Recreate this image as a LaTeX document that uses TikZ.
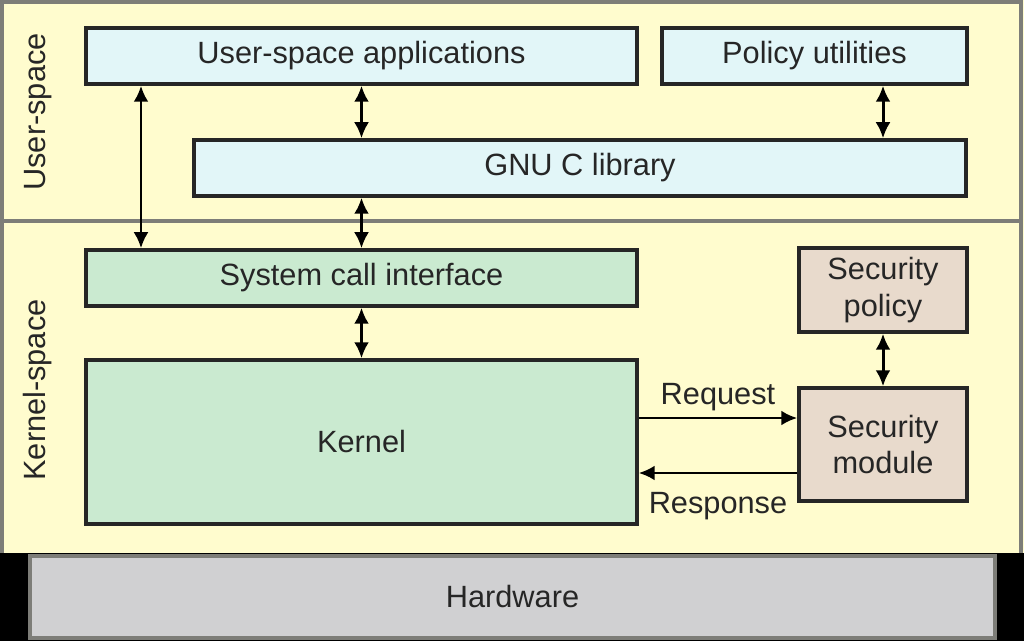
\documentclass[tikz,border=0pt]{standalone}
\usepackage{fontspec}
\setmainfont{Liberation Sans}
\usepackage{xcolor}
\usetikzlibrary{arrows.meta,positioning,calc}

\definecolor{bgyellow}{RGB}{255,252,206}
\definecolor{userblue}{RGB}{226,246,248}
\definecolor{kerngreen}{RGB}{202,234,208}
\definecolor{sectan}{RGB}{232,218,204}
\definecolor{hwgrey}{RGB}{208,208,210}
\definecolor{rimgrey}{RGB}{125,125,120}

\begin{document}
\begin{tikzpicture}[
  x=0.02cm, y=-0.02cm,
  font=\fontsize{17.5}{21}\selectfont,
  box/.style={draw=black!85, line width=2pt, align=center, inner sep=2pt, text=black!85},
  ubox/.style={box, fill=userblue, minimum height=1.12cm},
  kbox/.style={box, fill=kerngreen},
  sbox/.style={box, fill=sectan, minimum width=3.36cm},
  dbl/.style={{Latex[length=3.2mm,width=3mm]}-{Latex[length=3.2mm,width=3mm]}, line width=1.7pt},
  arr/.style={-{Latex[length=3.2mm,width=3mm]}, line width=1.7pt},
  lab/.style={inner sep=3pt, text=black!85},
  side/.style={rotate=90, inner sep=0pt, text=black!85}
]
\useasboundingbox (0,0) rectangle (1024,641);
% backdrop
\fill[bgyellow] (0,0) rectangle (1024,553);
\draw[rimgrey, line width=2.2pt] (2,553) -- (2,2) -- (1021,2) -- (1021,553);
\draw[rimgrey, line width=2.4pt] (2,221) -- (1021,221);
\fill[black] (0,553) rectangle (1024,641);

\node[side] (uspace) at (38,112) {User-space};
\node[side] (kspace) at (38,390) {Kernel-space};

% user-space
\node[ubox, minimum width=11.02cm] (apps)   at (361.5,56) {User-space applications};
\node[ubox, minimum width=6.10cm]  (polut)  at (814.5,56) {Policy utilities};
\node[ubox, minimum width=15.44cm] (glibc)  at (580,168)  {GNU C library};

% kernel-space
\node[kbox, minimum width=11.02cm, minimum height=1.12cm] (sysc) at (361.5,278) {System call interface};
\node[kbox, minimum width=11.02cm, minimum height=3.28cm] (kern) at (361.5,442) {Kernel};
\node[sbox, minimum height=1.68cm] (secpol) at (883,290)   {Security\\ policy};
\node[sbox, minimum height=2.26cm] (secmod) at (883,444.5) {Security\\ module};

% hardware
\node[box, draw=rimgrey, fill=hwgrey, minimum width=19.3cm, minimum height=1.64cm] (hw) at (512.5,597) {Hardware};

\coordinate (leftx) at (141,0);
\path ([yshift=0.53cm]secmod.west) coordinate (reqend);
\path ([yshift=-0.57cm]secmod.west) coordinate (respbeg);

\draw[dbl] (apps.south -| leftx) -- (sysc.north -| leftx);
\draw[dbl] (apps.south) -- (glibc.north -| apps.south);
\draw[dbl] (glibc.south -| sysc.north) -- (sysc.north);
\draw[dbl] (sysc.south) -- (kern.north);
\draw[dbl] (polut.south -| secpol.north) -- (glibc.north -| secpol.north);
\draw[dbl] (secpol.south) -- (secmod.north);
\draw[arr] (kern.east |- reqend) -- node[lab, above]{Request} (reqend);
\draw[arr] (respbeg) -- node[lab, below=7pt]{Response} (kern.east |- respbeg);
\end{tikzpicture}
\end{document}
